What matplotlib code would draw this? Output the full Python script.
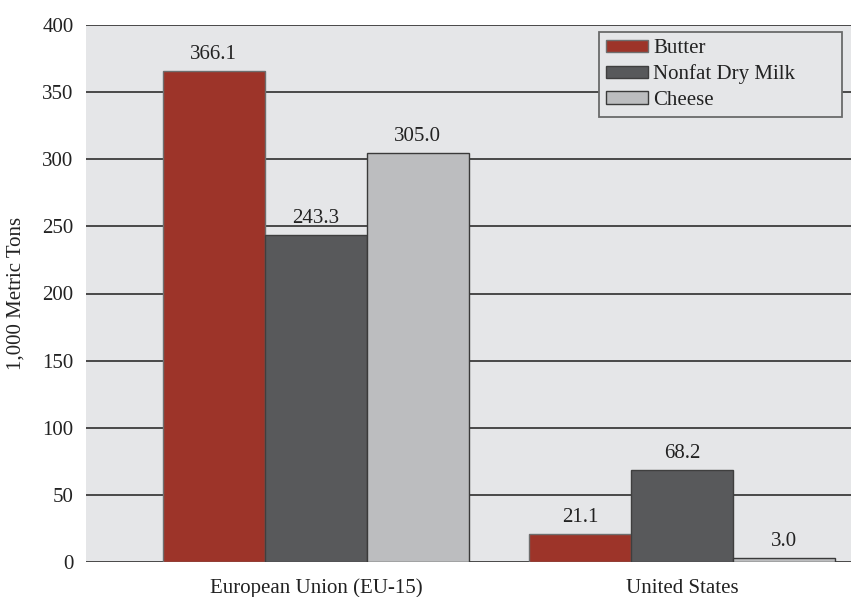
import numpy as np
import matplotlib.pyplot as plt

# data
regions = ['European Union (EU-15)', 'United States']
series = ['Butter', 'Nonfat Dry Milk', 'Cheese']
butter = [366.1, 21.1]
nonfat_dry_milk = [243.3, 68.2]
cheese = [305.0, 3.0]
colors = ['#9d3429', '#58595b', '#bcbdbf']
edges = ['#6e6e6e', '#3f3f3f', '#3a3a3a']

plt.rcParams['font.family'] = ['Liberation Serif', 'DejaVu Serif']
plt.rcParams['font.size'] = 15

fig = plt.figure(figsize=(8.51, 5.97), dpi=100)
ax = fig.add_axes([86 / 851, 35 / 597, 765 / 851, 537 / 597])
ax.set_facecolor('#e5e6e8')

x = np.arange(len(regions))
width = 0.2787
for i, (name, vals) in enumerate(zip(series, [butter, nonfat_dry_milk, cheese])):
    bars = ax.bar(x + (i - 1) * width, vals, width, color=colors[i],
                  edgecolor=edges[i], linewidth=1.0, label=name, zorder=3)
    ax.bar_label(bars, labels=[f'{v:.1f}' for v in vals], padding=5,
                 color='#222222', fontsize=15)

ax.set_xlim(-0.628, 1.462)
ax.set_ylim(0, 400)
ax.set_yticks(np.arange(0, 401, 50))
ax.set_xticks(x)
ax.set_xticklabels(regions)
ax.tick_params(axis='both', length=0, colors='#222222', labelsize=15)
ax.tick_params(axis='x', pad=12)
ax.tick_params(axis='y', pad=9)
ax.yaxis.grid(True, color='#3c3c3c', linewidth=1.3, zorder=1)
ax.set_axisbelow(True)
for s in ax.spines.values():
    s.set_visible(False)

ax.set_ylabel('1,000 Metric Tons', fontsize=15, color='#222222', labelpad=12)

# legend box: wider than its contents, text flush left
leg_x0 = (599 - 86) / 765
leg_w = (842 - 599) / 765
leg = ax.legend(loc='upper left', bbox_to_anchor=(leg_x0, 0.987, leg_w, 0.0),
                mode='expand', borderaxespad=0,
                fancybox=False, framealpha=1, facecolor='#e5e6e8', edgecolor='#6a6a6a',
                handlelength=2.0, handleheight=0.55, handletextpad=0.25,
                labelspacing=0.3, borderpad=0.35, fontsize=15)
leg.get_frame().set_linewidth(1.3)
for t in leg.get_texts():
    t.set_color('#222222')

fig.savefig('out.png', dpi=100)
